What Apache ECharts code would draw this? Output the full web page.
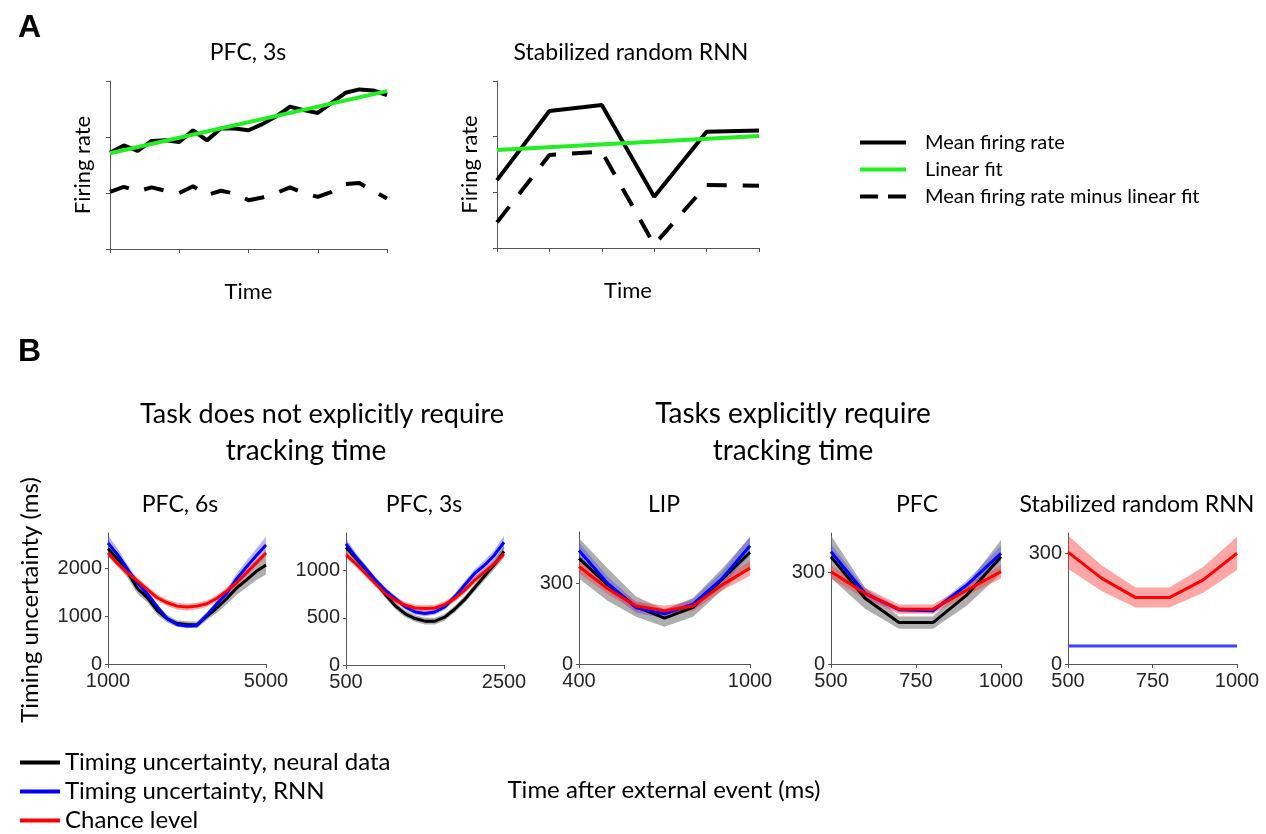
<!DOCTYPE html>
<html>
<head>
<meta charset="utf-8">
<script src="https://cdn.jsdelivr.net/npm/echarts@6/dist/echarts.min.js"></script>
<style>
  html, body { margin: 0; padding: 0; background: #ffffff; }
  #chart { width: 1266px; height: 834px; }
</style>
</head>
<body>
<div id="chart"></div>
<script>
// ---------- Panel A: mean firing rate, linear fit and residual ----------
const a1Time   = [0, 0.2, 0.4, 0.6, 0.8, 1.0, 1.2, 1.4, 1.6, 1.8, 2.0, 2.2, 2.4, 2.6, 2.8, 3.0, 3.2, 3.4, 3.6, 3.8, 4.0];
const a1Mean   = [1.72, 1.85, 1.75, 1.93, 1.94, 1.91, 2.12, 1.94, 2.15, 2.15, 2.12, 2.23, 2.37, 2.54, 2.48, 2.43, 2.61, 2.79, 2.85, 2.83, 2.75];
const a1Resid  = [1.02, 1.11, 1.03, 1.10, 1.04, 1.00, 1.12, 0.96, 1.04, 0.99, 0.87, 0.92, 1.00, 1.10, 1.00, 0.93, 1.02, 1.16, 1.18, 1.04, 0.90];
const a1FitX   = [0, 4];
const a1FitY   = [1.71, 2.82];

const a2Time   = [0, 1, 2, 3, 4, 5];
const a2Mean   = [1.22, 2.46, 2.57, 0.92, 2.09, 2.11];
const a2Resid  = [0.46, 1.67, 1.73, 0.06, 1.13, 1.12];
const a2FitX   = [0, 5];
const a2FitY   = [1.76, 2.01];

const aLegend  = ['Mean firing rate', 'Linear fit', 'Mean firing rate minus linear fit'];

// ---------- Panel B: timing uncertainty (ms) ----------
const bLegend  = ['Timing uncertainty, neural data', 'Timing uncertainty, RNN', 'Chance level'];

// PFC, 6s
const b1Time       = [1000, 1250, 1500, 1750, 2000, 2250, 2500, 2750, 3000, 3250, 3500, 3750, 4000, 4250, 4500, 4750, 5000];
const b1Neural     = [2420, 2200, 1920, 1580, 1390, 1120, 950, 850, 830, 820, 1000, 1170, 1370, 1590, 1760, 1940, 2080];
const b1NeuralSd   = [150, 130, 120, 110, 100, 90, 80, 70, 70, 70, 80, 100, 120, 140, 160, 180, 200];
const b1Rnn        = [2540, 2290, 1980, 1700, 1470, 1200, 950, 830, 800, 810, 1020, 1260, 1480, 1780, 2030, 2270, 2500];
const b1RnnSd      = [160, 130, 100, 80, 70, 60, 50, 50, 50, 50, 60, 70, 90, 110, 130, 150, 170];
const b1Chance     = [2330, 2100, 1910, 1740, 1560, 1390, 1285, 1215, 1195, 1215, 1265, 1375, 1530, 1700, 1910, 2120, 2330];
const b1ChanceSd   = [70, 70, 70, 70, 70, 70, 70, 70, 70, 70, 70, 70, 70, 70, 70, 70, 70];

// PFC, 3s
const b2Time       = [500, 625, 750, 875, 1000, 1125, 1250, 1375, 1500, 1625, 1750, 1875, 2000, 2125, 2250, 2375, 2500];
const b2Neural     = [1250, 1133, 1014, 887, 746, 627, 542, 493, 465, 465, 507, 591, 693, 817, 940, 1063, 1204];
const b2NeuralSd   = [60, 45, 40, 35, 35, 35, 35, 35, 35, 35, 35, 35, 35, 40, 45, 50, 60];
const b2Rnn        = [1285, 1144, 1020, 898, 792, 704, 616, 563, 546, 563, 616, 722, 845, 968, 1056, 1162, 1302];
const b2RnnSd      = [60, 45, 40, 35, 30, 30, 30, 30, 30, 30, 30, 35, 40, 45, 50, 55, 70];
const b2Chance     = [1169, 1074, 968, 862, 757, 686, 634, 605, 598, 605, 641, 704, 792, 898, 986, 1074, 1179];
const b2ChanceSd   = [35, 35, 35, 35, 35, 35, 35, 35, 35, 35, 35, 35, 35, 35, 35, 35, 35];

// LIP
const b3Time       = [400, 500, 600, 700, 800, 900, 1000];
const b3Neural     = [392, 295, 213, 170, 210, 312, 415];
const b3NeuralSd   = [75, 60, 38, 32, 35, 40, 55];
const b3Rnn        = [421, 300, 209, 186, 222, 315, 439];
const b3RnnSd      = [30, 25, 20, 15, 20, 25, 35];
const b3Chance     = [362, 280, 215, 198, 215, 292, 356];
const b3ChanceSd   = [25, 20, 18, 18, 18, 20, 28];

// PFC
const b4Time       = [500, 600, 700, 800, 900, 1000];
const b4Neural     = [352, 216, 136, 136, 227, 352];
const b4NeuralSd   = [70, 35, 20, 20, 35, 55];
const b4Rnn        = [369, 232, 178, 175, 260, 363];
const b4RnnSd      = [25, 15, 8, 8, 15, 25];
const b4Chance     = [303, 232, 180, 180, 243, 303];
const b4ChanceSd   = [22, 18, 15, 15, 18, 22];

// Stabilized random RNN
const b5Time       = [500, 600, 700, 800, 900, 1000];
const b5Rnn        = [49, 49, 49, 49, 49, 49];
const b5RnnSd      = [3, 3, 3, 3, 3, 3];
const b5Chance     = [303, 232, 180, 180, 228, 300];
const b5ChanceSd   = [45, 35, 27, 27, 35, 45];

// ---------- styling ----------
const TITLE_FONT = 'Lato, "Open Sans", sans-serif';
const TICK_FONT  = '"Liberation Sans", Arial, sans-serif';
const AXIS_COLOR = '#555555';
const GREEN      = '#22ee22';
const BLUE       = '#0000ff';
const RED        = '#ff0000';
const GRAY_BAND  = 'rgba(120,120,120,0.6)';
const BLUE_BAND  = 'rgba(70,70,255,0.4)';
const RED_BAND   = 'rgba(255,60,60,0.45)';
const DASH_ICON  = 'path://M0,0H18V4H0ZM28,0H46V4H28Z';

const chart = echarts.init(document.getElementById('chart'), null, { renderer: 'canvas' });

const pairs = (xs, ys) => xs.map((x, i) => [x, ys[i]]);
const plainNumber = v => String(v);

// shaded band (mean ± spread) drawn as one polygon through the axis scales
function band(name, idx, xs, mean, spread, color) {
  const pts = xs.map((x, i) => [x, mean[i] - spread[i], mean[i] + spread[i]]);
  return {
    type: 'custom', name: name, xAxisIndex: idx, yAxisIndex: idx, silent: true,
    data: pts,
    encode: { x: 0, y: [1, 2] },
    renderItem: function (params, api) {
      if (params.dataIndex !== 0) return null;
      const upper = pts.map(p => api.coord([p[0], p[2]]));
      const lower = pts.map(p => api.coord([p[0], p[1]])).reverse();
      return { type: 'polygon', shape: { points: upper.concat(lower) }, style: { fill: color } };
    }
  };
}

function line(name, idx, xs, ys, color, width, dash) {
  return {
    type: 'line', name: name, xAxisIndex: idx, yAxisIndex: idx,
    data: pairs(xs, ys), symbol: 'none', silent: true,
    lineStyle: { color: color, width: width, type: dash || 'solid' },
    itemStyle: { color: color }
  };
}

// ---------- grids ----------
const grids = [
  { left: 110, top: 81, width: 277, height: 168 },   // A: PFC, 3s
  { left: 497, top: 81, width: 262, height: 167 },   // A: stabilized random RNN
  { left: 108, top: 533, width: 158, height: 131 },  // B: PFC, 6s
  { left: 346, top: 533, width: 158, height: 132 },  // B: PFC, 3s
  { left: 579, top: 532, width: 171, height: 132 },  // B: LIP
  { left: 831, top: 533, width: 170, height: 131 },  // B: PFC
  { left: 1068, top: 533, width: 169, height: 131 }  // B: stabilized random RNN
];

const axisLine = { show: true, lineStyle: { color: AXIS_COLOR, width: 1 } };

function aXAxis(idx, max) {
  return {
    type: 'value', gridIndex: idx, min: 0, max: max, interval: 1,
    axisLine: axisLine, axisTick: { show: true, length: 4, lineStyle: { color: AXIS_COLOR } },
    axisLabel: { show: false }, splitLine: { show: false },
    name: 'Time', nameLocation: 'middle', nameGap: 32,
    nameTextStyle: { fontFamily: TITLE_FONT, fontSize: 22, color: '#000' }
  };
}
function aYAxis(idx) {
  return {
    type: 'value', gridIndex: idx, min: 0, max: 3, interval: 1,
    axisLine: axisLine, axisTick: { show: true, length: 4, lineStyle: { color: AXIS_COLOR } },
    axisLabel: { show: false }, splitLine: { show: false },
    name: 'Firing rate', nameLocation: 'middle', nameRotate: 90, nameGap: 16,
    nameTextStyle: { fontFamily: TITLE_FONT, fontSize: 22, color: '#000' }
  };
}
function bXAxis(idx, min, max, ticks) {
  return {
    type: 'value', gridIndex: idx, min: min, max: max,
    axisLine: axisLine,
    axisTick: { show: true, length: 4, customValues: ticks, lineStyle: { color: AXIS_COLOR } },
    axisLabel: { customValues: ticks, formatter: plainNumber, fontFamily: TICK_FONT, fontSize: 20, color: '#262626', margin: 7 },
    splitLine: { show: false }
  };
}
function bYAxis(idx, max, ticks) {
  return {
    type: 'value', gridIndex: idx, min: 0, max: max,
    axisLine: axisLine,
    axisTick: { show: true, length: 3, customValues: ticks, lineStyle: { color: AXIS_COLOR } },
    axisLabel: { customValues: ticks, formatter: plainNumber, fontFamily: TICK_FONT, fontSize: 20, color: '#262626', margin: 6 },
    splitLine: { show: false }
  };
}

const xAxes = [
  aXAxis(0, 4), aXAxis(1, 5),
  bXAxis(2, 1000, 5000, [1000, 5000]),
  bXAxis(3, 500, 2500, [500, 2500]),
  bXAxis(4, 400, 1000, [400, 1000]),
  bXAxis(5, 500, 1000, [500, 750, 1000]),
  bXAxis(6, 500, 1000, [500, 750, 1000])
];
const yAxes = [
  aYAxis(0), aYAxis(1),
  bYAxis(2, 2750, [0, 1000, 2000]),
  bYAxis(3, 1400, [0, 500, 1000]),
  bYAxis(4, 490, [0, 300]),
  bYAxis(5, 430, [0, 300]),
  bYAxis(6, 355, [0, 300])
];

const DASH = [20, 16];
const series = [
  // A, left
  line(aLegend[0], 0, a1Time, a1Mean, '#000', 4),
  line(aLegend[2], 0, a1Time, a1Resid, '#000', 4, DASH),
  line(aLegend[1], 0, a1FitX, a1FitY, GREEN, 4),
  // A, right
  line(aLegend[0], 1, a2Time, a2Mean, '#000', 4),
  line(aLegend[2], 1, a2Time, a2Resid, '#000', 4, DASH),
  line(aLegend[1], 1, a2FitX, a2FitY, GREEN, 4),

  // B: PFC, 6s
  band('neural band', 2, b1Time, b1Neural, b1NeuralSd, GRAY_BAND),
  line(bLegend[0], 2, b1Time, b1Neural, '#000', 3),
  band('rnn band', 2, b1Time, b1Rnn, b1RnnSd, BLUE_BAND),
  line(bLegend[1], 2, b1Time, b1Rnn, BLUE, 3),
  band('chance band', 2, b1Time, b1Chance, b1ChanceSd, RED_BAND),
  line(bLegend[2], 2, b1Time, b1Chance, RED, 3),

  // B: PFC, 3s
  band('neural band', 3, b2Time, b2Neural, b2NeuralSd, GRAY_BAND),
  line(bLegend[0], 3, b2Time, b2Neural, '#000', 3),
  band('rnn band', 3, b2Time, b2Rnn, b2RnnSd, BLUE_BAND),
  line(bLegend[1], 3, b2Time, b2Rnn, BLUE, 3),
  band('chance band', 3, b2Time, b2Chance, b2ChanceSd, RED_BAND),
  line(bLegend[2], 3, b2Time, b2Chance, RED, 3),

  // B: LIP
  band('neural band', 4, b3Time, b3Neural, b3NeuralSd, GRAY_BAND),
  line(bLegend[0], 4, b3Time, b3Neural, '#000', 3),
  band('rnn band', 4, b3Time, b3Rnn, b3RnnSd, BLUE_BAND),
  line(bLegend[1], 4, b3Time, b3Rnn, BLUE, 3),
  band('chance band', 4, b3Time, b3Chance, b3ChanceSd, RED_BAND),
  line(bLegend[2], 4, b3Time, b3Chance, RED, 3),

  // B: PFC
  band('neural band', 5, b4Time, b4Neural, b4NeuralSd, GRAY_BAND),
  line(bLegend[0], 5, b4Time, b4Neural, '#000', 3),
  band('rnn band', 5, b4Time, b4Rnn, b4RnnSd, BLUE_BAND),
  line(bLegend[1], 5, b4Time, b4Rnn, BLUE, 3),
  band('chance band', 5, b4Time, b4Chance, b4ChanceSd, RED_BAND),
  line(bLegend[2], 5, b4Time, b4Chance, RED, 3),

  // B: stabilized random RNN
  band('rnn band', 6, b5Time, b5Rnn, b5RnnSd, BLUE_BAND),
  line(bLegend[1], 6, b5Time, b5Rnn, '#4444ff', 3),
  band('chance band', 6, b5Time, b5Chance, b5ChanceSd, RED_BAND),
  line(bLegend[2], 6, b5Time, b5Chance, RED, 3)
];

function text(x, y, str, font, opts) {
  const o = opts || {};
  return {
    type: 'text', x: x, y: y, silent: true, rotation: o.rotation || 0,
    style: { text: str, font: font, fill: '#000', align: o.align || 'center', verticalAlign: 'middle' }
  };
}

const LABEL_FONT = 'bold 32px "Liberation Sans", Arial, sans-serif';
const graphics = [
  text(18, 28, 'A', LABEL_FONT, { align: 'left' }),
  text(18, 352, 'B', LABEL_FONT, { align: 'left' }),
  text(248, 53, 'PFC, 3s', '23px ' + TITLE_FONT),
  text(631, 53, 'Stabilized random RNN', '23px ' + TITLE_FONT),
  text(322, 414, 'Task does not explicitly require', '27px ' + TITLE_FONT),
  text(306, 451, 'tracking time', '28px ' + TITLE_FONT),
  text(793, 414, 'Tasks explicitly require', '28px ' + TITLE_FONT),
  text(793, 451, 'tracking time', '28px ' + TITLE_FONT),
  text(180, 505, 'PFC, 6s', '23px ' + TITLE_FONT),
  text(424, 505, 'PFC, 3s', '23px ' + TITLE_FONT),
  text(664, 505, 'LIP', '23px ' + TITLE_FONT),
  text(917, 505, 'PFC', '23px ' + TITLE_FONT),
  text(1137, 505, 'Stabilized random RNN', '23px ' + TITLE_FONT),
  text(30, 600, 'Timing uncertainty (ms)', '24px ' + TITLE_FONT, { rotation: Math.PI / 2 }),
  text(664, 790, 'Time after external event (ms)', '24px ' + TITLE_FONT)
];

const option = {
  animation: false,
  backgroundColor: '#ffffff',
  grid: grids,
  xAxis: xAxes,
  yAxis: yAxes,
  legend: [
    {
      orient: 'vertical', left: 860, top: 129, height: 90, padding: 0,
      itemWidth: 46, itemHeight: 4, itemGap: 0, icon: 'rect',
      selectedMode: false,
      textStyle: { fontFamily: TITLE_FONT, fontSize: 20, color: '#000', padding: [0, 0, 0, 14], lineHeight: 27 },
      data: [
        { name: aLegend[0] },
        { name: aLegend[1] },
        { name: aLegend[2], icon: DASH_ICON }
      ]
    },
    {
      orient: 'vertical', left: 20, top: 748, height: 90, padding: 0,
      itemWidth: 40, itemHeight: 4, itemGap: 0, icon: 'rect',
      selectedMode: false,
      textStyle: { fontFamily: TITLE_FONT, fontSize: 24, color: '#000', lineHeight: 29 },
      data: bLegend
    }
  ],
  graphic: graphics,
  series: series
};

chart.setOption(option);
</script>
</body>
</html>
